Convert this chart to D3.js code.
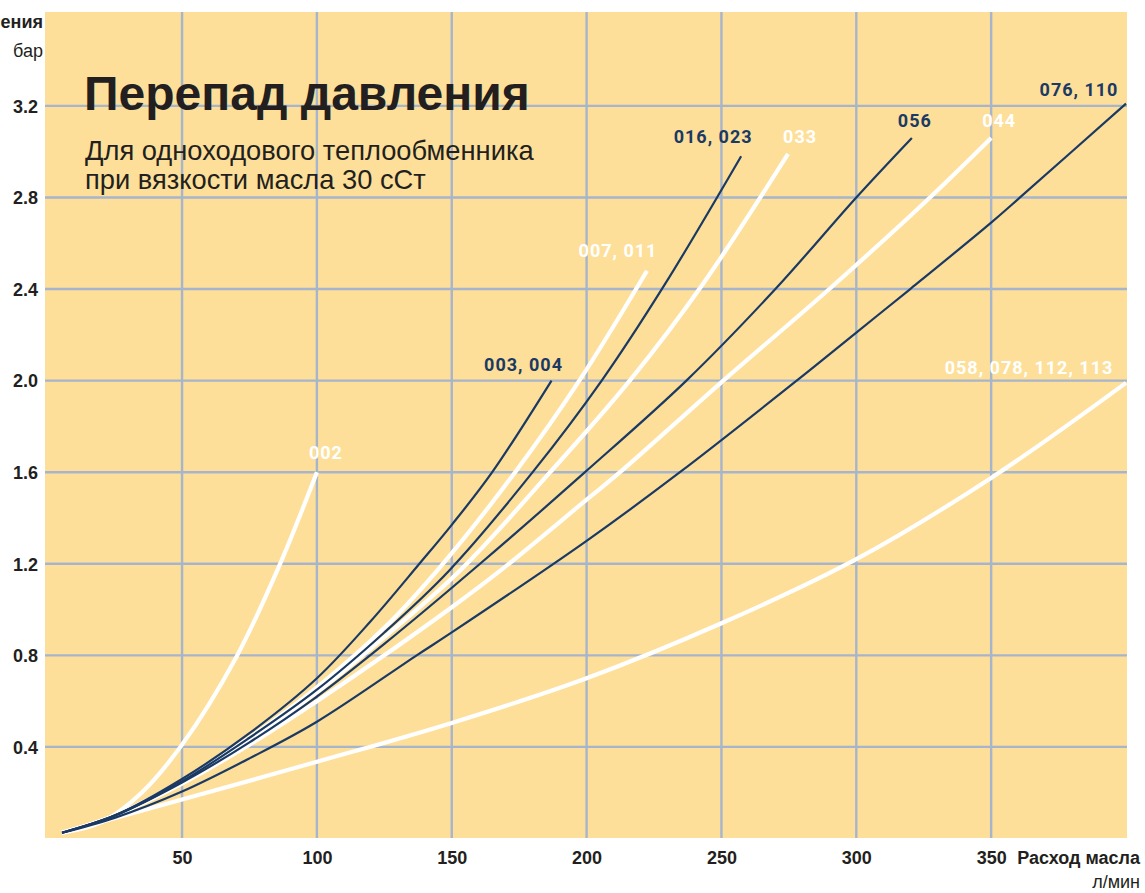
<!DOCTYPE html>
<html>
<head>
<meta charset="utf-8">
<script src="https://cdn.jsdelivr.net/npm/d3@7"></script>
<style>
  html, body { margin: 0; padding: 0; background: #ffffff; }
  svg { display: block; }
</style>
</head>
<body>
<svg id="chart" width="1145" height="893"></svg>
<script>
// ---------- DATA ----------
const xTicks = [50, 100, 150, 200, 250, 300, 350];
const yTicks = [0.4, 0.8, 1.2, 1.6, 2.0, 2.4, 2.8, 3.2];
const yTickLabels = ["0.4", "0.8", "1.2", "1.6", "2.0", "2.4", "2.8", "3.2"];

const seriesNames = ["002", "003, 004", "007, 011", "016, 023", "033", "056", "044", "076, 110", "058, 078, 112, 113"];
const seriesColorKeys = ["white", "navy", "white", "navy", "white", "navy", "white", "navy", "white"];

const s002 = [[5.5,0.025],[20,0.07],[35,0.2],[50,0.41],[70,0.79],[86,1.19],[100,1.6]];
const s003 = [[5.5,0.025],[25,0.1],[50,0.26],[75,0.46],[100,0.70],[120,0.95],[138,1.2],[150,1.37],[165,1.6],[187,2.0]];
const s007 = [[5.5,0.025],[25,0.1],[50,0.25],[75,0.44],[100,0.66],[125,0.92],[146,1.19],[173.5,1.6],[197.3,2.0],[222.4,2.48]];
const s016 = [[5.5,0.025],[25,0.1],[50,0.25],[75,0.44],[100,0.65],[125,0.9],[149,1.17],[180,1.6],[205.6,2.0],[229,2.42],[257.3,2.98]];
const s033 = [[5.5,0.025],[25,0.1],[50,0.25],[75,0.43],[100,0.64],[125,0.88],[153,1.17],[186.5,1.6],[216,2.0],[243,2.42],[274.7,2.99]];
const s056 = [[5.5,0.025],[25,0.1],[50,0.245],[75,0.42],[100,0.62],[125,0.85],[160.5,1.2],[199.4,1.6],[237,2.0],[270,2.4],[300,2.8],[320.6,3.06]];
const s044 = [[5.5,0.025],[25,0.1],[50,0.24],[75,0.41],[100,0.6],[125,0.8],[150,1.01],[168,1.17],[200,1.48],[212.4,1.6],[250.7,2.0],[290,2.4],[327.3,2.8],[350,3.06]];
const s076 = [[5.5,0.025],[25,0.09],[50,0.205],[75,0.35],[100,0.51],[137,0.8],[150,0.9],[200,1.3],[234.6,1.6],[277.9,2.0],[300,2.21],[320,2.4],[350,2.69],[360.7,2.8],[400,3.21]];
const s058 = [[5.5,0.025],[50,0.17],[100,0.335],[150,0.505],[200,0.70],[250,0.94],[300,1.22],[350,1.575],[400,1.99]];
const seriesValues = [s002, s003, s007, s016, s033, s056, s044, s076, s058];

// label offsets relative to the end of each curve (pixels)
const labelOffsets = [[9,-13],[-28,-10],[-29,-14],[-28,-13],[12,-11],[3,-11],[8,-11],[-47,-8],[-97,-9]];

// ---------- STYLE ----------
const COLORS = { white: "#ffffff", navy: "#1b3a63" };
const WIDTHS = { white: 4.2, navy: 2.2 };
const BG = "#fddf99";
const GRID = "#a7b5cc";
const INK = "#231f20";

// ---------- LAYOUT ----------
const svg = d3.select("#chart");
const plot = { left: 45, right: 1127, top: 12, bottom: 838 };

const x = d3.scaleLinear().domain([0, 400]).range([47.2, 1126]);
const y = d3.scaleLinear().domain([0, 3.61]).range([838.5, 12]);

// background
svg.append("rect")
  .attr("x", plot.left).attr("y", plot.top)
  .attr("width", plot.right - plot.left).attr("height", plot.bottom - plot.top)
  .attr("fill", BG);

// grid
const g = svg.append("g");
g.selectAll("line.v").data(xTicks).join("line")
  .attr("class", "v")
  .attr("x1", d => x(d)).attr("x2", d => x(d))
  .attr("y1", plot.top).attr("y2", plot.bottom)
  .attr("stroke", GRID).attr("stroke-width", 2.4);
g.selectAll("line.h").data(yTicks).join("line")
  .attr("class", "h")
  .attr("x1", plot.left).attr("x2", plot.right)
  .attr("y1", d => y(d)).attr("y2", d => y(d))
  .attr("stroke", GRID).attr("stroke-width", 2.4);

// axes (tick labels only)
const xAxis = d3.axisBottom(x).tickValues(xTicks).tickSize(0).tickPadding(0).tickFormat(d3.format("d"));
const xg = svg.append("g").attr("transform", `translate(0,${plot.bottom})`).call(xAxis);
xg.select(".domain").remove();
xg.selectAll("text")
  .attr("y", 26).attr("dy", 0)
  .attr("fill", INK)
  .style("font-family", "'Liberation Sans', Arial, sans-serif")
  .style("font-weight", "bold").style("font-size", "18px");

const yAxis = d3.axisLeft(y).tickValues(yTicks).tickSize(0).tickPadding(0)
  .tickFormat((d, i) => yTickLabels[i]);
const yg = svg.append("g").attr("transform", `translate(38,0)`).call(yAxis);
yg.select(".domain").remove();
yg.selectAll("text")
  .attr("x", 0).attr("dy", "0.35em")
  .attr("fill", INK)
  .style("font-family", "'Liberation Sans', Arial, sans-serif")
  .style("font-weight", "bold").style("font-size", "18px");

// curves
const line = d3.line()
  .x(d => x(d[0])).y(d => y(d[1]))
  .curve(d3.curveCatmullRom.alpha(0.5));

const order = [0, 2, 4, 6, 8, 1, 3, 5, 7]; // whites below navies
const curves = svg.append("g");
order.forEach(i => {
  const key = seriesColorKeys[i];
  curves.append("path")
    .datum(seriesValues[i])
    .attr("d", line)
    .attr("fill", "none")
    .attr("stroke", COLORS[key])
    .attr("stroke-width", WIDTHS[key])
    .attr("stroke-linecap", "butt");
});

// curve labels
const labels = svg.append("g");
seriesNames.forEach((name, i) => {
  const pts = seriesValues[i];
  const last = pts[pts.length - 1];
  labels.append("text")
    .attr("x", x(last[0]) + labelOffsets[i][0])
    .attr("y", y(last[1]) + labelOffsets[i][1])
    .attr("text-anchor", "middle")
    .attr("fill", COLORS[seriesColorKeys[i]])
    .style("font-family", "Roboto, 'DejaVu Sans', sans-serif")
    .style("font-weight", "bold")
    .style("font-size", "18px")
    .style("letter-spacing", "1px")
    .text(name);
});

// title & subtitle
svg.append("text")
  .attr("x", 84).attr("y", 110)
  .attr("fill", INK)
  .style("font-family", "'Liberation Sans', Arial, sans-serif")
  .style("font-weight", "bold").style("font-size", "48px")
  .text("Перепад давления");
const sub = svg.append("text")
  .attr("fill", INK)
  .style("font-family", "'Liberation Sans', Arial, sans-serif")
  .style("font-size", "27.3px");
sub.append("tspan").attr("x", 85).attr("y", 160).text("Для одноходового теплообменника");
sub.append("tspan").attr("x", 85).attr("y", 189).text("при вязкости масла 30 сСт");

// axis titles
svg.append("text")
  .attr("x", 43).attr("y", 28).attr("text-anchor", "end")
  .attr("fill", INK)
  .style("font-family", "'Liberation Sans', Arial, sans-serif")
  .style("font-weight", "bold").style("font-size", "18px")
  .text("ения");
svg.append("text")
  .attr("x", 43).attr("y", 57).attr("text-anchor", "end")
  .attr("fill", INK)
  .style("font-family", "'Liberation Sans', Arial, sans-serif")
  .style("font-size", "18px")
  .text("бар");
svg.append("text")
  .attr("x", 1140).attr("y", 864).attr("text-anchor", "end")
  .attr("fill", INK)
  .style("font-family", "'Liberation Sans', Arial, sans-serif")
  .style("font-weight", "bold").style("font-size", "18px")
  .text("Расход масла");
svg.append("text")
  .attr("x", 1140).attr("y", 888).attr("text-anchor", "end")
  .attr("fill", INK)
  .style("font-family", "'Liberation Sans', Arial, sans-serif")
  .style("font-size", "18px")
  .text("л/мин");
</script>
</body>
</html>
